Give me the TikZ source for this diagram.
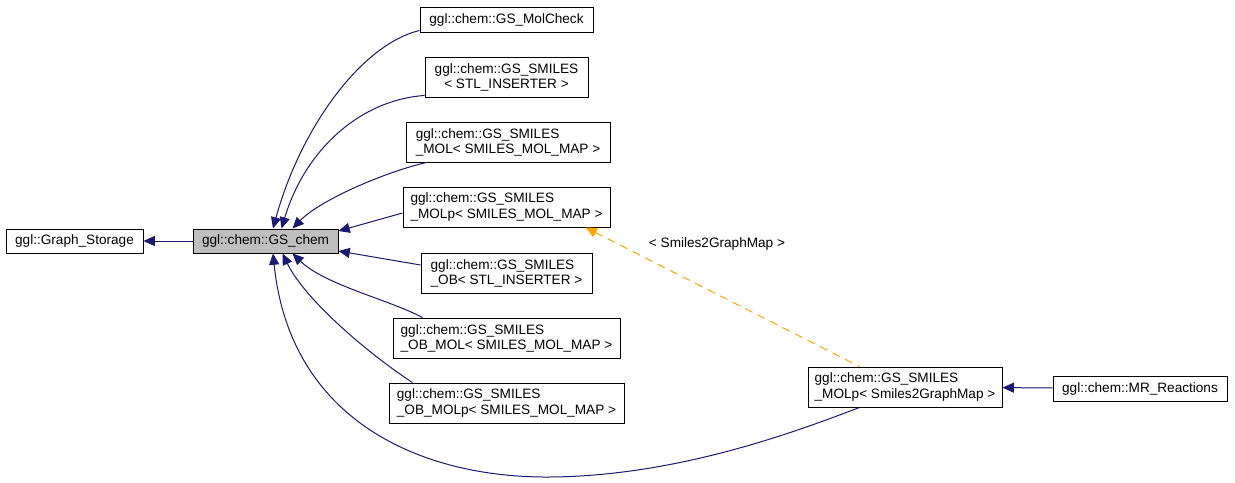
\documentclass[tikz,border=0pt]{standalone}
\usepackage{fontspec}
\setmainfont{Liberation Sans}
\usetikzlibrary{arrows.meta,calc}
\definecolor{edgeblue}{HTML}{191970}
\definecolor{boxgray}{HTML}{BFBFBF}
\definecolor{tmplorange}{HTML}{FFA500}

\begin{document}
\begin{tikzpicture}[x=0.75pt, y=-0.75pt,
  cls/.style={draw=black, line width=0.7pt, fill=white, inner sep=0pt, font=\fontsize{10.2}{11.3}\selectfont},
  inh/.style={edgeblue, line width=0.75pt, {Triangle[length=8.5pt,width=7.5pt]}-},
  tmpl/.style={tmplorange, line width=0.75pt, dash pattern=on 6pt off 4.5pt, {Triangle[length=8.5pt,width=7.5pt]}-}]
\useasboundingbox (0,0) rectangle (1235,482);
% Clases
\node[cls, minimum width=102.75pt, minimum height=18pt] (gstore) at (74.5,241) {ggl::Graph\_Storage};
\node[cls, fill=boxgray, minimum width=108.75pt, minimum height=18pt] (gschem) at (265.5,241) {ggl::chem::GS\_chem};
\node[cls, minimum width=129.75pt, minimum height=18.75pt] (molcheck) at (506.5,19.5) {ggl::chem::GS\_MolCheck};
\node[cls, align=center, minimum width=122.25pt, minimum height=30pt] (stlins) at (506.5,77) {ggl::chem::GS\_SMILES\\< STL\_INSERTER >};
\node[cls, align=left, minimum width=153pt, minimum height=30pt] (mol) at (508,142) {ggl::chem::GS\_SMILES\\\_MOL< SMILES\_MOL\_MAP >};
\node[cls, align=left, minimum width=155.25pt, minimum height=30pt] (molp) at (506.5,207) {ggl::chem::GS\_SMILES\\\_MOLp< SMILES\_MOL\_MAP >};
\node[cls, align=left, minimum width=128.25pt, minimum height=30pt] (ob) at (506.5,273) {ggl::chem::GS\_SMILES\\\_OB< STL\_INSERTER >};
\node[cls, align=left, minimum width=170.25pt, minimum height=30pt] (obmol) at (506.5,338) {ggl::chem::GS\_SMILES\\\_OB\_MOL< SMILES\_MOL\_MAP >};
\node[cls, align=left, minimum width=176.25pt, minimum height=30pt] (obmolp) at (506.5,403) {ggl::chem::GS\_SMILES\\\_OB\_MOLp< SMILES\_MOL\_MAP >};
\node[cls, align=left, minimum width=145.5pt, minimum height=30pt] (s2g) at (905,387) {ggl::chem::GS\_SMILES\\\_MOLp< Smiles2GraphMap >};
\node[cls, minimum width=130.5pt, minimum height=18.75pt] (mrreact) at (1140,388.5) {ggl::chem::MR\_Reactions};
\node[font=\fontsize{10.2}{11.3}\selectfont] (tlabel) at (717,244) {< Smiles2GraphMap >};
\coordinate (low) at (550,477);
% Herencia
\draw[inh] (gstore) -- (gschem);
\draw[inh] ($(gschem.north)+(7.5,0)$) .. controls (300,130) and (360,45) .. ($(molcheck.south west)+(0,-2)$);
\draw[inh] ($(gschem.north)+(16,0)$) .. controls (305,150) and (360,100) .. ($(stlins.south west)+(0,-2)$);
\draw[inh] ($(gschem.north)+(27,0)$) .. controls (320,200) and (385,172) .. ($(mol.south west)+(21,0)$);
\draw[inh] ($(gschem.east)+(0,-10)$) -- ($(molp.west)+(0,6)$);
\draw[inh] ($(gschem.east)+(0,10)$) -- ($(ob.west)+(0,-8)$);
\draw[inh] ($(gschem.south)+(27,0)$) .. controls (325,285) and (390,300) .. ($(obmol.north west)+(30,0)$);
\draw[inh] ($(gschem.south)+(17,0)$) .. controls (305,300) and (370,355) .. ($(obmolp.north west)+(24,0)$);
\draw[inh] ($(gschem.south)+(7.5,0)$) .. controls (290,420) and (420,478) .. (low) .. controls (680,476) and (800,430) .. ($(s2g.south west)+(52,0)$);
\draw[inh] (s2g) -- (mrreact);
% Plantilla
\draw[tmpl] ($(molp.south east)+(-25,0)$) -- ($(s2g.north west)+(52,0)$);
\end{tikzpicture}
\end{document}
